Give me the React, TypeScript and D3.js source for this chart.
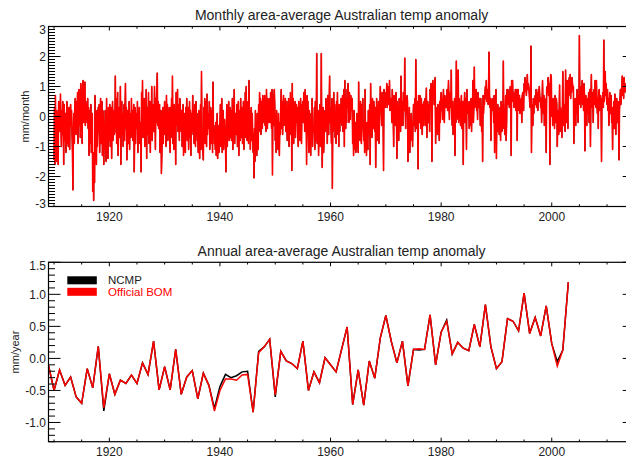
import React, { useRef, useEffect } from "react";
import * as d3 from "d3";

const WIDTH = 626;
const HEIGHT = 458;
const LEFT = 48.5;
const RIGHT = 634.7;
const FONT = "'Liberation Sans', Arial, Helvetica, sans-serif";

const X_DOMAIN = [1909, 2015];
const X_MAJOR = [1920, 1940, 1960, 1980, 2000];

// monthly anomalies, Jan 1910 onwards, one row per year
const MONTHLY_START = 1910;
const monthly1910s = [
  -1.45, 0.3, -1.6, 0.7, -0.6, -1.5, 0.2, -1.1, -0.4, -1.6, 0.5, -0.2,
  0.3, -0.5, 0.75, -0.3, -1.0, 0.2, -0.6, 0.5, -0.2, -1.6, 0.4, -0.6,
  -0.8, 0.1, -1.2, -0.3, 0.5, -0.9, -0.2, -1.0, 0.3, -0.6, -1.1, 0.2,
  0.4, -0.3, 0.2, -0.6, -1.2, -2.45, -0.5, 0.1, -0.9, 0.3, 0.6, 0.2,
  -0.6, 0.5, -0.2, 0.8, -0.9, 0.4, 0.9, -0.3, 0.6, -0.7, 1.1, 0.2,
  0.7, -0.9, 1.0, 1.2, 0.3, -0.2, 0.8, 1.15, -0.3, 0.5, -0.1, 0.4,
  -0.2, 0.6, -0.4, 0.3, -1.3, -0.5, 0.2, -0.9, 0.4, -1.2, -0.3, 0.1,
  -2.5, -1.2, -2.8, -1.4, -2.2, 0.7, -1.3, -0.6, -1.6, 0.2, -1.0, -0.4,
  0.3, -0.5, 0.4, -1.2, -0.2, 0.6, -0.9, -0.3, 0.5, -1.3, 0.2, -0.1,
  -1.6, -0.4, -1.1, 0.2, -0.7, -1.5, 0.6, -1.0, -0.3, -1.4, 0.3, -0.8,
];
const monthly1920s = [
  -0.3, 0.4, -1.0, -0.2, 0.3, -1.4, -0.1, 0.5, -0.8, -0.3, 0.2, -0.6,
  -0.5, 1.35, -0.3, 0.6, -0.9, -0.1, 0.8, -1.3, -0.4, 0.3, -0.7, -0.2,
  1.0, -1.6, -0.2, 0.5, -0.6, 0.1, -1.0, -0.3, 0.4, -0.8, 0.2, 1.1,
  -0.4, 0.3, -1.45, -0.6, 0.2, -0.9, -0.2, 0.5, -1.1, -0.3, 0.1, -0.7,
  0.6, -0.5, 0.2, -0.8, -0.1, 0.4, -1.85, -0.6, 0.3, -0.9, 0.1, -0.3,
  -0.4, 0.5, -1.2, 0.1, -0.6, 0.3, -0.9, -0.2, -0.6, -1.85, 0.8, -0.5,
  1.2, -0.7, 0.4, -0.3, 0.6, -1.0, 0.2, -0.5, 0.9, -1.4, 0.3, 0.1,
  -0.6, 0.8, -0.9, -0.2, 0.5, -1.2, 0.1, -0.4, 1.0, -0.8, -0.3, 0.2,
  0.4, -0.5, 1.0, 0.2, -1.1, 0.6, -0.2, 0.8, 1.45, -0.3, 0.5, -0.4,
  -0.3, 0.4, -1.2, -0.6, 0.2, -1.9, -1.3, -0.4, 0.3, -0.9, -0.2, 0.1,
];
const monthly1930s = [
  0.5, -0.6, 0.2, -1.0, 0.7, -0.3, 0.4, -0.8, 0.1, -0.5, 0.3, -0.7,
  -1.2, 0.3, -0.7, 0.6, -0.4, 1.35, -0.9, -0.2, -1.1, 0.4, -0.6, -0.3,
  -1.6, 0.8, 0.2, -0.3, 0.9, -0.5, 0.4, 0.1, -0.8, 0.6, 0.3, -0.2,
  -0.5, 0.2, -1.0, -0.3, 0.4, -1.3, -0.6, 0.1, -0.9, -1.2, 0.3, -0.4,
  0.6, -0.8, -0.1, 0.3, -1.1, -0.4, 0.5, -0.7, 0.2, -1.3, 0.1, -0.5,
  -0.3, 0.7, -0.6, 0.2, -0.9, 0.4, -0.2, -1.0, 0.5, -0.4, 0.1, -0.8,
  -0.6, -1.2, 0.2, -0.9, -1.4, -0.3, 0.4, -1.1, 1.5, -0.5, -0.8, -1.2,
  -1.45, 0.3, -0.4, 0.6, -0.9, -0.2, 0.5, -1.0, 0.75, -0.6, 0.1, -0.3,
  -0.4, 0.5, -1.1, -0.2, 0.3, -0.9, -0.5, 0.2, -1.2, 1.15, -0.6, -0.3,
  -0.9, -0.4, -1.1, -0.2, -1.3, -0.6, 0.1, -1.4, -0.8, -0.3, -1.2, -0.5,
];
const monthly1940s = [
  -0.2, 0.4, -1.0, -0.5, 0.6, -1.2, -0.3, 0.2, -1.1, -0.6, -0.1, -0.8,
  -0.9, -1.85, -0.3, 0.4, -1.0, 0.1, -0.6, 0.5, -0.8, -0.2, 0.3, -0.7,
  0.2, -0.8, -0.4, 0.6, -1.1, 0.3, -0.5, 0.9, -0.9, -0.2, 0.1, -0.6,
  -0.5, 0.4, -1.0, -0.1, 0.5, -1.3, -0.3, 0.2, -0.8, 0.6, -0.7, -0.2,
  0.3, -0.9, -0.2, 0.5, -1.1, 0.1, -0.4, 0.8, -0.7, 1.0, -0.5, -0.8,
  -0.3, 0.5, -0.9, 1.2, -0.6, 0.2, -1.1, -0.4, 0.3, -0.8, 0.1, -0.5,
  -1.2, -0.6, -2.05, -0.4, -1.5, 0.2, -1.0, -0.3, -1.3, 0.1, -0.9, -1.1,
  0.4, -0.5, 0.8, -0.1, 0.6, -0.6, 0.3, 0.5, -0.4, 0.7, -0.2, 0.3,
  0.2, 0.7, -0.3, 0.5, -0.5, 0.9, 0.1, -0.4, 0.6, 0.3, -0.2, 0.4,
  0.6, -0.2, 0.8, 0.3, -0.4, 0.9, -1.95, 0.5, -0.3, 0.7, 0.9, 0.4,
];
const monthly1950s = [
  -0.8, -0.3, -1.2, 0.2, -0.9, -0.5, -1.1, 0.1, -0.7, -1.3, -0.2, -0.6,
  0.3, 0.9, -0.4, 0.5, -0.6, 0.2, 0.7, -0.3, 0.4, -0.1, 0.6, -0.5,
  -0.2, 0.5, -0.8, 0.3, -0.5, 0.6, -1.0, 0.2, -0.3, 0.8, -0.6, 0.4,
  -1.8, 1.1, -0.4, 0.6, -0.9, 0.2, -0.3, 0.5, -0.7, 0.1, 0.4, -0.2,
  0.3, -0.6, -1.0, 0.5, -0.4, 0.2, -0.8, 0.6, -0.3, -0.9, 0.4, 0.1,
  0.5, -0.2, 0.8, 0.3, -0.5, 0.9, -0.1, 0.6, -1.6, 0.7, 0.4, 0.5,
  -0.6, -1.2, 0.2, -0.9, -0.4, -1.3, 0.1, -0.7, 0.6, -1.0, -0.3, -0.5,
  -0.4, 0.3, -1.1, 0.5, -0.8, -0.2, 2.1, -0.9, -0.5, 0.2, -1.3, -0.6,
  -0.3, 0.4, -1.0, -0.5, 2.1, -0.6, -1.7, -0.4, 0.3, -1.2, -0.8, -0.2,
  0.2, -0.5, 0.6, -0.3, 0.4, -0.9, 0.7, 0.1, -0.6, 0.5, 1.35, -0.2,
];
const monthly1960s = [
  0.3, -0.4, -0.9, 0.6, -2.4, 0.2, -0.5, 0.8, -0.3, 0.4, -0.7, 0.1,
  -0.9, 0.5, -0.3, 0.8, -0.6, 0.2, -1.0, 0.4, -0.5, 0.1, -0.2, 0.6,
  0.4, -0.3, 0.7, -0.5, 0.2, 0.9, -1.0, 1.2, 0.1, -0.4, 0.6, -0.2,
  0.9, 0.3, 1.1, 0.4, -0.2, 0.8, 0.6, -0.1, 0.7, 0.2, 0.5, 0.6,
  -0.9, -0.4, -1.3, 0.2, -1.1, -0.6, -0.2, -1.2, -0.7, 0.1, -1.0, -0.5,
  -1.2, 1.15, -0.6, 0.3, -0.8, 0.5, -0.3, -0.9, 0.4, -0.1, 0.6, -0.4,
  -0.8, -0.3, -1.2, 0.9, -1.0, -0.5, -1.3, -0.2, -0.9, -1.1, 0.2, -0.6,
  -0.2, 0.4, -1.6, 1.1, -0.5, 0.3, -0.7, 0.6, 0.2, -0.4, 0.5, -0.1,
  -0.5, 0.3, -1.7, -0.2, 0.6, -0.8, 0.1, -0.4, 0.5, -0.9, -0.3, 0.2,
  1.0, 0.2, 0.6, -0.3, 0.8, 0.4, -0.1, -1.8, 0.9, 0.5, 0.7, 0.3,
];
const monthly1970s = [
  0.8, 0.5, 1.1, 0.3, 1.0, 0.9, 0.4, 0.7, 1.2, 0.2, 0.6, 0.5,
  0.6, -0.2, 0.9, 0.4, -0.1, -1.0, 0.7, 0.3, 0.5, -0.3, 0.8, 0.2,
  -1.4, 0.5, -0.6, 0.3, -0.8, 0.6, -0.2, 0.4, -0.5, 1.35, -0.3, 0.1,
  0.5, -0.3, 0.8, 0.4, 0.2, 1.95, 0.3, -0.4, 0.6, 0.1, 0.7, 0.5,
  -1.5, -0.6, -0.9, 0.3, -1.2, -0.4, -0.8, 0.1, -0.7, -0.3, -1.0, -0.2,
  0.4, -0.3, 0.2, 0.6, -0.5, 1.9, 0.3, -0.4, 0.1, 0.5, -1.75, 0.7,
  0.5, -0.2, 0.7, 0.1, -0.4, 0.6, 0.3, -0.6, 0.4, 0.2, -0.3, 0.5,
  0.2, 0.6, -0.3, 0.4, 0.95, -0.7, 0.3, 0.5, -0.2, 0.1, 0.4, -0.5,
  0.9, 0.5, 1.1, 0.7, -1.5, 0.8, 1.2, 0.6, 1.0, 0.4, 1.1, 1.3,
  -0.9, 0.3, -0.5, 0.2, -0.6, 0.4, -0.3, 0.1, -0.8, 0.5, -0.2, 0.6,
];
const monthly1980s = [
  0.8, 0.2, 0.6, -0.1, 0.5, 0.9, 0.3, -0.2, 0.7, 0.4, 0.6, 0.3,
  0.5, 0.9, 0.2, 0.7, 1.2, 0.4, -0.1, 0.8, 0.6, 0.3, 1.55, 0.1,
  -0.3, 0.5, -0.6, 0.2, -0.4, 0.6, -1.3, 0.3, -0.2, 1.85, -0.1, 0.2,
  0.4, 1.55, -0.2, 0.6, 0.1, 0.5, -0.3, 0.3, 0.7, -0.4, 0.2, 0.5,
  -1.6, 0.5, 0.3, 0.8, -0.2, 0.6, 0.4, -1.1, 0.9, 0.1, 0.5, 0.3,
  0.2, -0.4, 0.5, 0.1, -0.3, 0.6, -0.5, 0.4, 0.2, 1.2, -0.2, 0.3,
  1.65, 0.3, 0.7, 0.4, 0.9, 0.2, 0.6, -0.1, 0.8, 0.5, 0.3, 0.6,
  0.4, -0.3, 0.6, 0.2, -0.5, 0.3, -1.5, 0.7, 0.1, 0.5, 0.4, 0.8,
  1.0, 0.6, 1.2, 0.5, 0.8, 0.9, 0.4, 1.1, 2.15, 0.7, 0.3, 0.6,
  -0.8, 0.5, 0.3, 0.6, 0.2, 0.4, -0.2, 0.7, -1.2, 0.5, 0.3, 0.9,
];
const monthly1990s = [
  -1.4, 0.2, -0.3, 0.4, -0.5, 0.1, -0.6, 0.3, -0.2, -0.8, 0.5, 0.4,
  -0.5, 0.3, -0.2, 1.85, -0.4, 0.2, -0.6, 0.1, 0.7, -0.8, -0.3, 0.9,
  0.6, 0.9, 0.4, 0.7, 0.3, 0.8, 1.0, 0.5, -1.3, 1.2, 0.6, 1.2,
  0.5, 0.8, 0.3, 0.6, 0.4, 0.9, 0.2, 0.7, 0.9, -0.8, 0.6, 0.9,
  0.4, 0.2, 0.7, 0.1, 0.5, 0.3, 0.6, -0.2, 0.7, 0.8, 0.4, 0.2,
  1.1, 0.8, 1.3, 0.9, 1.2, 0.7, 1.0, 1.4, 0.9, 1.1, 1.0, 0.8,
  0.5, 0.3, 0.8, 2.35, -1.2, 0.4, 0.2, -0.3, 0.6, 0.1, 0.5, 0.4,
  0.7, 0.4, 0.9, 0.3, 0.8, 0.6, 0.2, 0.9, 0.5, 1.0, 0.7, 0.6,
  0.3, 0.6, -0.2, 0.5, 1.2, 0.4, 0.1, 0.7, -0.3, 0.6, 0.2, 0.5,
  -1.2, 0.9, 1.0, 0.8, 1.3, 0.7, 1.1, 0.9, -1.6, 1.2, 1.4, 1.3,
];
const monthly2000s = [
  0.0, 0.5, -0.3, 0.6, 0.2, 0.4, -0.4, 0.7, 0.3, -0.2, 0.6, 0.4,
  -1.0, -0.3, 0.2, -0.6, 0.1, 1.05, -0.5, 0.3, -0.4, 0.2, -0.7, 0.1,
  1.5, 0.2, -0.3, 0.4, 0.1, -0.5, 1.55, 0.3, -0.2, 1.2, 0.4, -0.4,
  1.2, 0.7, 1.3, 0.9, 1.4, 0.6, 1.2, 0.8, 1.3, 1.1, 0.9, 1.0,
  -0.9, 0.4, 0.2, 0.6, -0.3, 0.5, 0.1, 0.9, 0.3, -0.2, 0.7, 0.4,
  2.7, 0.5, 0.9, 0.3, 1.0, 0.6, 1.2, 0.4, 0.8, 0.2, 1.1, 0.7,
  -1.15, 0.4, 0.7, 0.2, -0.3, 0.6, 0.5, 0.1, 0.8, -0.2, 0.4, 0.9,
  -1.0, 0.6, 1.4, 0.3, 0.8, 0.5, -0.2, 0.7, 0.9, 0.4, 1.2, 0.6,
  0.3, 1.2, 0.5, 0.1, 0.6, -0.4, 0.8, 0.9, 0.2, 0.5, 0.7, 0.3,
  -1.5, 0.6, 0.4, 0.8, 0.3, 2.55, 0.5, 0.9, 1.5, 0.7, 1.1, 0.6,
];
const monthly2010s = [
  0.4, 0.9, 0.2, 0.6, -0.3, 0.5, 0.8, 0.1, 0.4, 0.7, -0.2, 0.3,
  -1.1, 0.3, 0.1, 0.5, -0.4, 0.75, 0.2, -0.6, 0.4, 0.6, -0.2, 0.3,
  0.5, -0.3, -1.45, 0.2, 0.6, 0.9, 0.4, 0.8, 1.0, 1.35, 0.7, 1.2,
  0.6, 1.3, 0.9, 1.1, 0.8,
];

// annual anomalies, 1909 onwards
const ANNUAL_START = 1909;
const annualNcmp = [
  -0.11,
  -0.5, -0.18, -0.42, -0.29, -0.6, -0.7, -0.16, -0.46, 0.19, -0.82,
  -0.24, -0.56, -0.34, -0.39, -0.26, -0.39, -0.07, -0.25, 0.27, -0.49,
  -0.13, -0.49, 0.14, -0.56, -0.29, -0.19, -0.63, -0.23, -0.42, -0.78,
  -0.44, -0.25, -0.3, -0.27, -0.21, -0.2, -0.84, 0.11, 0.18, 0.3,
  -0.6, 0.11, -0.04, -0.08, -0.16, 0.27, -0.5, -0.21, -0.38, 0.01,
  -0.1, -0.21, 0.14, 0.49, -0.72, -0.18, -0.73, -0.04, -0.31, 0.32,
  0.67, 0.26, -0.07, 0.27, -0.43, 0.14, 0.13, 0.14, 0.68, -0.1,
  0.41, 0.6, 0.07, 0.25, 0.16, 0.12, 0.53, 0.18, 0.84, 0.18,
  -0.16, -0.05, 0.62, 0.58, 0.43, 1.02, 0.39, 0.64, 0.35, 0.82,
  0.23, -0.05, 0.13, 1.19,
];
const annualBom = [
  -0.11,
  -0.5, -0.18, -0.42, -0.29, -0.6, -0.7, -0.16, -0.46, 0.19, -0.77,
  -0.24, -0.56, -0.34, -0.39, -0.26, -0.39, -0.07, -0.25, 0.27, -0.49,
  -0.13, -0.49, 0.14, -0.56, -0.29, -0.19, -0.63, -0.23, -0.42, -0.82,
  -0.5, -0.32, -0.32, -0.34, -0.26, -0.25, -0.84, 0.09, 0.18, 0.3,
  -0.57, 0.11, -0.04, -0.08, -0.16, 0.27, -0.5, -0.21, -0.38, 0.01,
  -0.1, -0.21, 0.14, 0.49, -0.72, -0.18, -0.73, -0.04, -0.31, 0.32,
  0.67, 0.26, -0.07, 0.27, -0.43, 0.14, 0.15, 0.14, 0.68, -0.1,
  0.41, 0.58, 0.07, 0.25, 0.16, 0.12, 0.53, 0.18, 0.84, 0.18,
  -0.16, -0.05, 0.62, 0.58, 0.43, 1.02, 0.39, 0.64, 0.35, 0.82,
  0.23, -0.12, 0.13, 1.19,
];

const seriesNames = ["NCMP", "Official BOM"];
const seriesColors = ["#000000", "#ff0000"];

const PANELS = [
  {
    id: "monthly",
    top: 26.5,
    bottom: 206.5,
    yDomain: [-3, 3],
    yMajor: [-3, -2, -1, 0, 1, 2, 3],
    yFormat: d3.format("d"),
    title: "Monthly area-average Australian temp anomaly",
    titleY: 20,
    yTitle: "mm/month",
    yTitleX: 25,
  },
  {
    id: "annual",
    top: 262.3,
    bottom: 441.7,
    yDomain: [-1.3, 1.5],
    yMajor: [-1, -0.5, 0, 0.5, 1, 1.5],
    yFormat: d3.format(".1f"),
    title: "Annual area-average Australian temp anomaly",
    titleY: 256,
    yTitle: "mm/year",
    yTitleX: 15,
  },
];

const fmtMinus = (s) => s.replace("\u2212", "-");

export default function App() {
  const ref = useRef(null);

  useEffect(() => {
    const svg = d3.select(ref.current);
    svg.selectAll("*").remove();

    const monthly = [
      ...monthly1910s, ...monthly1920s, ...monthly1930s, ...monthly1940s,
      ...monthly1950s, ...monthly1960s, ...monthly1970s, ...monthly1980s,
      ...monthly1990s, ...monthly2000s, ...monthly2010s,
    ];

    const x = d3.scaleLinear().domain(X_DOMAIN).range([LEFT, RIGHT]);
    const xMinor = d3.range(1910, 2016, 5).filter((v) => !X_MAJOR.includes(v));

    PANELS.forEach((p) => {
      const y = d3.scaleLinear().domain(p.yDomain).range([p.bottom, p.top]);
      const g = svg.append("g");

      g.append("clipPath")
        .attr("id", `clip-${p.id}`)
        .append("rect")
        .attr("x", LEFT)
        .attr("y", p.top)
        .attr("width", RIGHT - LEFT)
        .attr("height", p.bottom - p.top);

      const plot = g.append("g").attr("clip-path", `url(#clip-${p.id})`);

      if (p.id === "monthly") {
        const ln = d3
          .line()
          .x((d, i) => x(MONTHLY_START + i / 12))
          .y((d) => y(d));
        // NCMP underneath, thinner: only short mitred tips show past the red
        plot.append("path")
          .datum(monthly)
          .attr("fill", "none")
          .attr("stroke", seriesColors[0])
          .attr("stroke-width", 0.9)
          .attr("stroke-linejoin", "miter")
          .attr("stroke-miterlimit", 5)
          .attr("d", ln);
        plot.append("path")
          .datum(monthly)
          .attr("fill", "none")
          .attr("stroke", seriesColors[1])
          .attr("stroke-width", 1.6)
          .attr("stroke-linejoin", "round")
          .attr("d", ln);
      } else {
        const ln = d3
          .line()
          .x((d, i) => x(ANNUAL_START + i))
          .y((d) => y(d));
        [annualNcmp, annualBom].forEach((s, k) => {
          plot.append("path")
            .datum(s)
            .attr("fill", "none")
            .attr("stroke", seriesColors[k])
            .attr("stroke-width", 1.5)
            .attr("stroke-linejoin", "miter")
            .attr("d", ln);
        });
      }

      // frame
      g.append("rect")
        .attr("x", LEFT)
        .attr("y", p.top)
        .attr("width", RIGHT - LEFT)
        .attr("height", p.bottom - p.top)
        .attr("fill", "none")
        .attr("stroke", "#000")
        .attr("stroke-width", 1.2);

      const ticks = g.append("g").attr("stroke", "#000").attr("stroke-width", 1);

      // y ticks, left and right
      const yMinor = d3
        .range(Math.round(p.yDomain[0] * 10), Math.round(p.yDomain[1] * 10) + 1)
        .map((v) => v / 10)
        .filter((v) => !p.yMajor.some((m) => Math.abs(m - v) < 1e-6));
      const yTick = (v, len) => {
        ticks.append("line")
          .attr("x1", LEFT).attr("x2", LEFT + len)
          .attr("y1", y(v)).attr("y2", y(v));
        ticks.append("line")
          .attr("x1", RIGHT).attr("x2", RIGHT - len)
          .attr("y1", y(v)).attr("y2", y(v));
      };
      p.yMajor.forEach((v) => yTick(v, 12));
      yMinor.forEach((v) => yTick(v, 6.5));

      // x ticks, bottom and top
      const xTick = (v, len) => {
        ticks.append("line")
          .attr("x1", x(v)).attr("x2", x(v))
          .attr("y1", p.bottom).attr("y2", p.bottom - len);
        ticks.append("line")
          .attr("x1", x(v)).attr("x2", x(v))
          .attr("y1", p.top).attr("y2", p.top + len);
      };
      X_MAJOR.forEach((v) => xTick(v, 4));
      xMinor.forEach((v) => xTick(v, 2.2));

      const text = g.append("g")
        .attr("font-family", FONT)
        .attr("fill", "#222");

      p.yMajor.forEach((v) => {
        const yy = Math.min(Math.max(y(v), p.top + 3), p.bottom - 3);
        text.append("text")
          .attr("x", 46)
          .attr("y", yy)
          .attr("dy", "0.35em")
          .attr("text-anchor", "end")
          .attr("font-size", 12)
          .text(fmtMinus(p.yFormat(v)));
      });

      X_MAJOR.forEach((v) => {
        text.append("text")
          .attr("x", x(v))
          .attr("y", p.bottom + 10)
          .attr("dy", "0.35em")
          .attr("text-anchor", "middle")
          .attr("font-size", 12)
          .text(v);
      });

      text.append("text")
        .attr("x", (LEFT + RIGHT) / 2)
        .attr("y", p.titleY)
        .attr("text-anchor", "middle")
        .attr("font-size", 14)
        .text(p.title);

      text.append("text")
        .attr("transform", `translate(${p.yTitleX},${(p.top + p.bottom) / 2}) rotate(-90)`)
        .attr("dy", "0.35em")
        .attr("text-anchor", "middle")
        .attr("font-size", 11)
        .text(p.yTitle);

      if (p.id === "annual") {
        const legend = g.append("g").attr("font-family", FONT);
        seriesNames.forEach((name, k) => {
          const cy = 280.3 + k * 11.5;
          legend.append("rect")
            .attr("x", 67.3)
            .attr("y", cy - 4)
            .attr("width", 29.5)
            .attr("height", 8)
            .attr("fill", seriesColors[k]);
          legend.append("text")
            .attr("x", 108)
            .attr("y", cy)
            .attr("dy", "0.35em")
            .attr("font-size", 11.5)
            .attr("fill", k === 0 ? "#222" : seriesColors[k])
            .text(name);
        });
      }
    });
  }, []);

  return (
    <div style={{ position: "absolute", left: 0, top: 0 }}>
      <svg ref={ref} width={WIDTH} height={HEIGHT} style={{ display: "block", background: "#fff" }} />
    </div>
  );
}
